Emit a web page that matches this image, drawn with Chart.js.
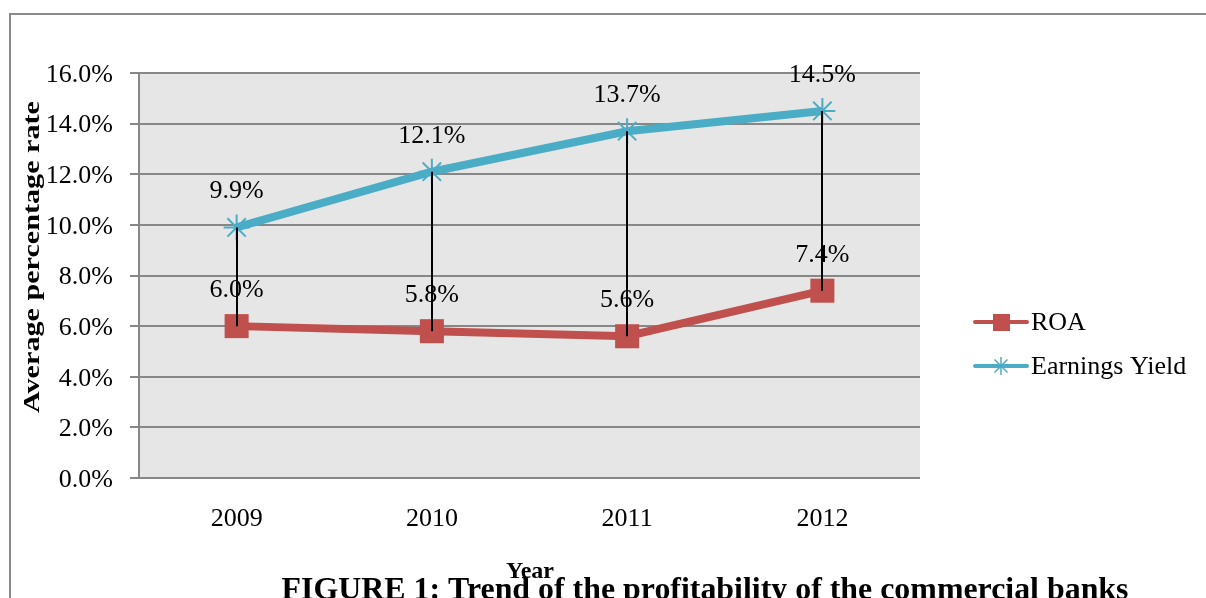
<!DOCTYPE html>
<html>
<head>
<meta charset="utf-8">
<script src="https://cdn.jsdelivr.net/npm/chart.js@4/dist/chart.umd.min.js"></script>
<style>
  html, body { margin: 0; padding: 0; background: #fff; }
  #wrap { position: relative; width: 1206px; height: 598px; overflow: hidden; }
  canvas { display: block; }
</style>
</head>
<body>
<div id="wrap"><canvas id="c" width="1206" height="598"></canvas></div>
<script>
const categories = ['2009', '2010', '2011', '2012'];
const roaValues = [6.0, 5.8, 5.6, 7.4];
const earningsYieldValues = [9.9, 12.1, 13.7, 14.5];
const seriesNames = ['ROA', 'Earnings Yield'];
const seriesColors = ['#C0504D', '#4BACC6'];
const yAxisTitle = 'Average percentage rate';
const xAxisTitle = 'Year';
const figureCaption = 'FIGURE 1: Trend of the profitability of the commercial banks';

const SERIF = '"Liberation Serif", "Times New Roman", serif';
const GRID = '#878787';

const fmt = v => v.toFixed(1) + '%';

const decor = {
  id: 'decor',
  beforeDraw(chart) {
    const { ctx, chartArea: a } = chart;
    ctx.save();
    ctx.fillStyle = '#e6e6e6';
    ctx.fillRect(a.left, a.top, a.right - a.left, a.bottom - a.top);
    // outer frame
    ctx.strokeStyle = '#8a8a8a';
    ctx.lineWidth = 2;
    ctx.beginPath();
    ctx.moveTo(10, 600);
    ctx.lineTo(10, 14);
    ctx.lineTo(1210, 14);
    ctx.stroke();
    ctx.restore();
  },
  afterDatasetsDraw(chart) {
    const { ctx } = chart;
    const m0 = chart.getDatasetMeta(0).data;
    const m1 = chart.getDatasetMeta(1).data;
    ctx.save();
    // data labels
    ctx.fillStyle = '#000';
    ctx.font = '26px ' + SERIF;
    ctx.textAlign = 'center';
    ctx.textBaseline = 'middle';
    [m0, m1].forEach((pts, di) => {
      const vals = chart.data.datasets[di].data;
      pts.forEach((p, i) => ctx.fillText(fmt(vals[i]), p.x, p.y - 36));
    });
    // high-low lines
    ctx.strokeStyle = '#000';
    ctx.lineWidth = 2;
    m1.forEach((p, i) => {
      ctx.beginPath();
      ctx.moveTo(Math.round(p.x), p.y);
      ctx.lineTo(Math.round(p.x), m0[i].y);
      ctx.stroke();
    });
    ctx.restore();
  },
  afterDraw(chart) {
    const { ctx } = chart;
    ctx.save();
    ctx.fillStyle = '#000';
    // legend
    const ly = [322, 366];
    seriesNames.forEach((name, i) => {
      const y = ly[i];
      ctx.strokeStyle = seriesColors[i];
      ctx.lineWidth = 4;
      ctx.lineCap = 'round';
      ctx.beginPath();
      ctx.moveTo(975, y);
      ctx.lineTo(1027, y);
      ctx.stroke();
      if (i === 0) {
        ctx.fillStyle = seriesColors[0];
        ctx.fillRect(993, y - 8, 17, 17);
      } else {
        ctx.lineWidth = 1.5;
        ctx.lineCap = 'butt';
        ctx.beginPath();
        const r = 9;
        ctx.moveTo(1001, y - r); ctx.lineTo(1001, y + r);
        ctx.moveTo(1001 - r * 0.72, y - r * 0.72); ctx.lineTo(1001 + r * 0.72, y + r * 0.72);
        ctx.moveTo(1001 - r * 0.72, y + r * 0.72); ctx.lineTo(1001 + r * 0.72, y - r * 0.72);
        ctx.stroke();
      }
      ctx.fillStyle = '#000';
      ctx.font = '26px ' + SERIF;
      ctx.textAlign = 'left';
      ctx.textBaseline = 'middle';
      ctx.fillText(name, 1031, y + 1);
    });
    // y axis title (rotated)
    ctx.save();
    ctx.translate(39, 257);
    ctx.rotate(-Math.PI / 2);
    ctx.font = 'bold 24px ' + SERIF;
    ctx.textAlign = 'center';
    ctx.textBaseline = 'alphabetic';
    const tw = ctx.measureText(yAxisTitle).width;
    ctx.scale(312 / tw, 1);
    ctx.fillText(yAxisTitle, 0, 0);
    ctx.restore();
    // x axis title
    ctx.save();
    ctx.font = 'bold 24px ' + SERIF;
    ctx.textAlign = 'center';
    ctx.textBaseline = 'alphabetic';
    ctx.fillText(xAxisTitle, 530, 578);
    ctx.restore();
    // caption
    ctx.save();
    ctx.font = 'bold 32px ' + SERIF;
    ctx.textAlign = 'center';
    ctx.textBaseline = 'alphabetic';
    const cw = ctx.measureText(figureCaption).width;
    ctx.translate(705, 599);
    ctx.scale(847 / cw, 1);
    ctx.fillText(figureCaption, 0, 0);
    ctx.restore();
    ctx.restore();
  }
};

new Chart(document.getElementById('c'), {
  type: 'line',
  data: {
    labels: categories,
    datasets: [
      {
        label: seriesNames[0],
        data: roaValues,
        borderColor: seriesColors[0],
        backgroundColor: seriesColors[0],
        borderWidth: 8,
        tension: 0,
        pointStyle: 'rect',
        pointRadius: 17,
        pointBackgroundColor: seriesColors[0],
        pointBorderColor: seriesColors[0],
        pointBorderWidth: 0
      },
      {
        label: seriesNames[1],
        data: earningsYieldValues,
        borderColor: seriesColors[1],
        backgroundColor: seriesColors[1],
        borderWidth: 8,
        tension: 0,
        pointStyle: 'star',
        pointRadius: 13,
        pointBorderColor: seriesColors[1],
        pointBorderWidth: 2
      }
    ]
  },
  options: {
    responsive: false,
    animation: false,
    devicePixelRatio: 1,
    layout: { padding: { left: 0, right: 286, top: 73, bottom: 0 } },
    plugins: { legend: { display: false }, tooltip: { enabled: false }, title: { display: false } },
    scales: {
      x: {
        offset: true,
        grid: { display: false, drawTicks: false },
        border: { display: false },
        ticks: { color: '#000', font: { family: SERIF, size: 26 }, padding: 26, maxRotation: 0 },
        afterFit(s) { s.height = 120; }
      },
      y: {
        min: 0,
        max: 16,
        ticks: { stepSize: 2, color: '#000', font: { family: SERIF, size: 26 }, padding: 17, labelOffset: 2, callback: v => fmt(v) },
        grid: { color: GRID, lineWidth: 2, tickLength: 9 },
        border: { color: GRID, width: 2 },
        afterFit(s) { s.width = 139; }
      }
    }
  },
  plugins: [decor]
});
</script>
</body>
</html>
